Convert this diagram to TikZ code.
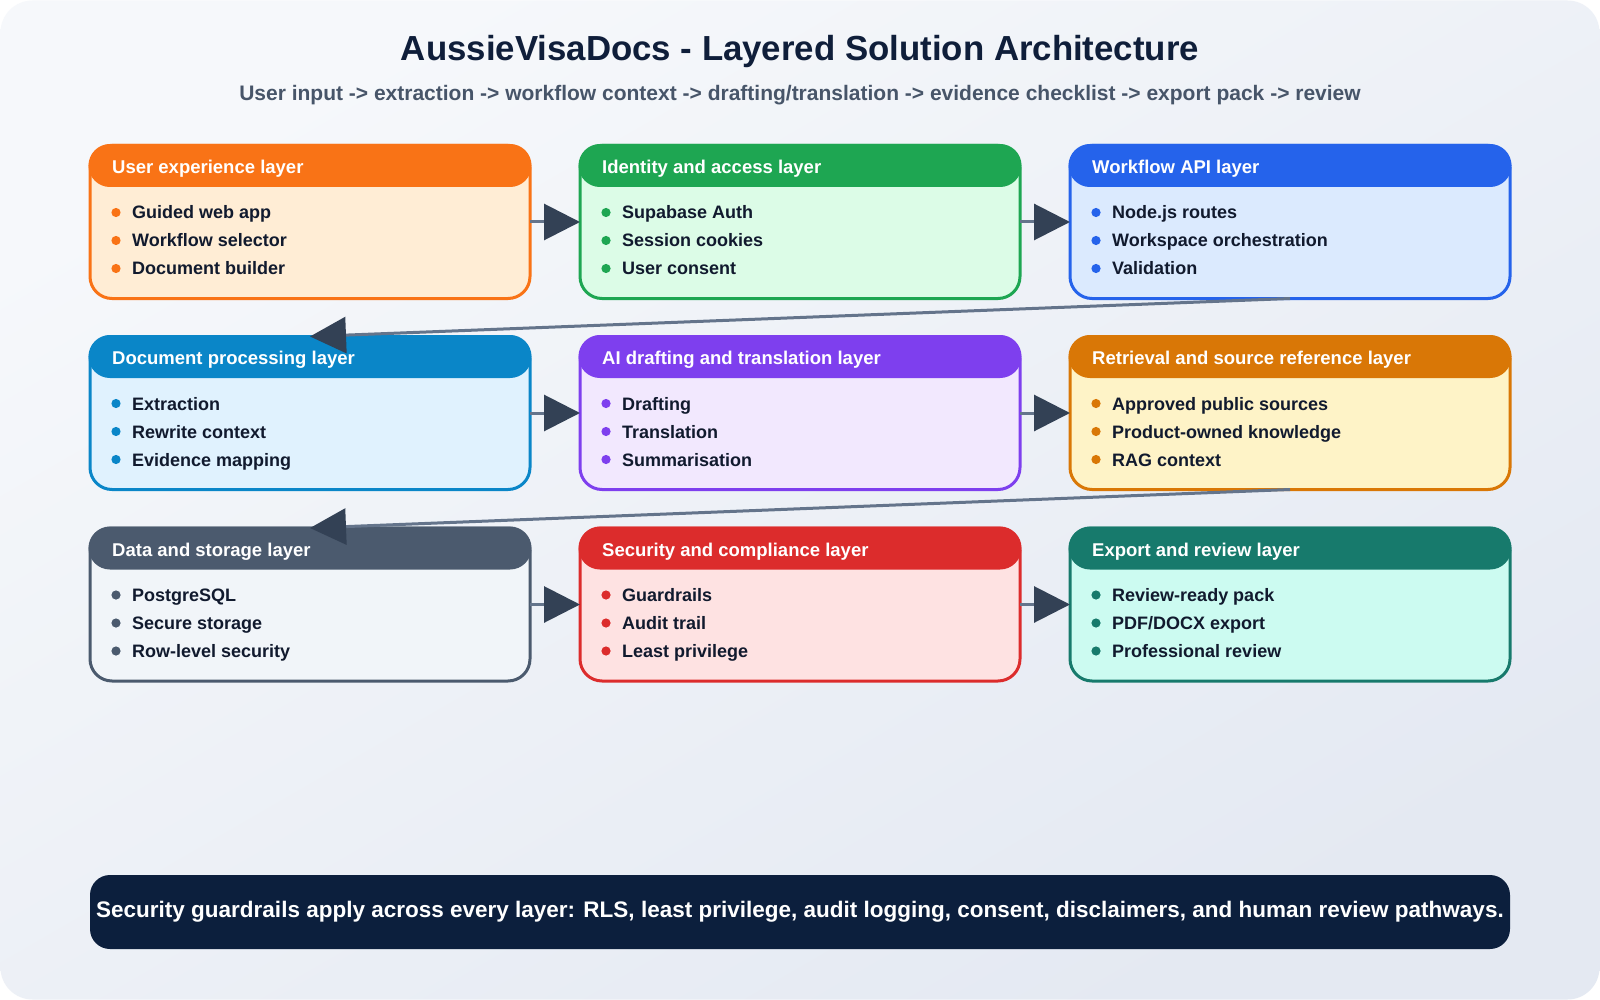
\documentclass[tikz,border=0pt]{standalone}
\usepackage{fontspec}
\setmainfont{Liberation Sans}
\usetikzlibrary{arrows.meta}
\definecolor{bgA}{HTML}{F6F8FB}
\definecolor{bgB}{HTML}{E4E9F2}
\definecolor{titlec}{HTML}{0F1E3A}
\definecolor{subc}{HTML}{475569}
\definecolor{itemtext}{HTML}{111A2E}
\definecolor{connline}{HTML}{64748B}
\definecolor{tipdark}{HTML}{334155}
\definecolor{navy}{HTML}{0C1F3D}
\definecolor{orangeC}{HTML}{F97316}\definecolor{orangeF}{HTML}{FFEDD5}
\definecolor{greenC}{HTML}{1EA652}\definecolor{greenF}{HTML}{DCFCE7}
\definecolor{blueC}{HTML}{2563EB}\definecolor{blueF}{HTML}{DBEAFE}
\definecolor{skyC}{HTML}{0A86C8}\definecolor{skyF}{HTML}{E0F2FE}
\definecolor{violetC}{HTML}{7E3FEE}\definecolor{violetF}{HTML}{F2E8FE}
\definecolor{amberC}{HTML}{D97706}\definecolor{amberF}{HTML}{FEF3C7}
\definecolor{slateC}{HTML}{4B5A6E}\definecolor{slateF}{HTML}{F1F5F9}
\definecolor{redC}{HTML}{DC2C2C}\definecolor{redF}{HTML}{FEE2E2}
\definecolor{tealC}{HTML}{177A6C}\definecolor{tealF}{HTML}{CCFBF1}
\tikzset{
  box/.style={rectangle, rounded corners=22pt, line width=3pt, minimum width=440pt, minimum height=153pt, outer sep=0pt, inner sep=0pt},
  hdr/.style={rectangle, rounded corners=20pt, line width=3pt, minimum width=440pt, minimum height=40pt, outer sep=0pt, inner sep=0pt},
  hdrtext/.style={anchor=base west, inner sep=0pt, text=white, font=\fontsize{18.5}{20}\selectfont\bfseries},
  itemtext/.style={anchor=base west, inner sep=0pt, text=itemtext, font=\fontsize{18}{20}\selectfont\bfseries},
  conn/.style={line width=3pt, draw=connline, -{Triangle[length=36pt,width=36pt,color=tipdark]}},
}
\newcommand\layerbox[9]{%
  \node[box, draw=#4, fill=#5, anchor=north west] (#1) at (#2,#3) {};
  \node[hdr, draw=#4, fill=#4, anchor=north west] (#1h) at (#2,#3) {};
  \node[hdrtext] (#1t) at ({#2+22},{#3+28}) {#6};
  \fill[#4] ({#2+26},{#3+67}) circle (4.6pt);
  \fill[#4] ({#2+26},{#3+95}) circle (4.6pt);
  \fill[#4] ({#2+26},{#3+123}) circle (4.6pt);
  \node[itemtext] (#1a) at ({#2+42},{#3+73.5}) {#7};
  \node[itemtext] (#1b) at ({#2+42},{#3+101.5}) {#8};
  \node[itemtext] (#1c) at ({#2+42},{#3+129.5}) {#9};
}
\begin{document}
\begin{tikzpicture}[x=1pt,y=-1pt]
\useasboundingbox (0,0) rectangle (1600,1000);
\fill[white] (0,0) rectangle (1600,1000);
\shade[shading=axis, top color=bgA, bottom color=bgB, shading angle=30, rounded corners=32pt] (0.5,0.5) rectangle (1599.5,999.5);
\node[inner sep=0pt, text=titlec, font=\fontsize{34.8}{40}\selectfont\bfseries] (title) at (800,52) {AussieVisaDocs - Layered Solution Architecture};
\node[inner sep=0pt, text=subc, font=\fontsize{21}{24}\selectfont\bfseries] (subtitle) at (800,95) {User input -> extraction -> workflow context -> drafting/translation -> evidence checklist -> export pack -> review};

\layerbox{ux}{90}{145.5}{orangeC}{orangeF}{User experience layer}{Guided web app}{Workflow selector}{Document builder}
\layerbox{idn}{580}{145.5}{greenC}{greenF}{Identity and access layer}{Supabase Auth}{Session cookies}{User consent}
\layerbox{api}{1070}{145.5}{blueC}{blueF}{Workflow API layer}{Node.js routes}{Workspace orchestration}{Validation}
\layerbox{doc}{90}{336.5}{skyC}{skyF}{Document processing layer}{Extraction}{Rewrite context}{Evidence mapping}
\layerbox{ai}{580}{336.5}{violetC}{violetF}{AI drafting and translation layer}{Drafting}{Translation}{Summarisation}
\layerbox{rag}{1070}{336.5}{amberC}{amberF}{Retrieval and source reference layer}{Approved public sources}{Product-owned knowledge}{RAG context}
\layerbox{data}{90}{528}{slateC}{slateF}{Data and storage layer}{PostgreSQL}{Secure storage}{Row-level security}
\layerbox{sec}{580}{528}{redC}{redF}{Security and compliance layer}{Guardrails}{Audit trail}{Least privilege}
\layerbox{exp}{1070}{528}{tealC}{tealF}{Export and review layer}{Review-ready pack}{PDF/DOCX export}{Professional review}

\draw[conn] (ux.east) -- (idn.west);
\draw[conn] (idn.east) -- (api.west);
\draw[conn] (api.south) -- (doc.north);
\draw[conn] (doc.east) -- (ai.west);
\draw[conn] (ai.east) -- (rag.west);
\draw[conn] (rag.south) -- (data.north);
\draw[conn] (data.east) -- (sec.west);
\draw[conn] (sec.east) -- (exp.west);

\node[rectangle, rounded corners=20pt, fill=navy, minimum width=1420pt, minimum height=74pt, inner sep=0pt, text=white, font=\fontsize{22.5}{26}\selectfont\bfseries] (banner) at (800,912) {\raisebox{-2pt}{Security guardrails apply across every layer: RLS, least privilege, audit logging, consent, disclaimers, and human review pathways.}};
\end{tikzpicture}
\end{document}
